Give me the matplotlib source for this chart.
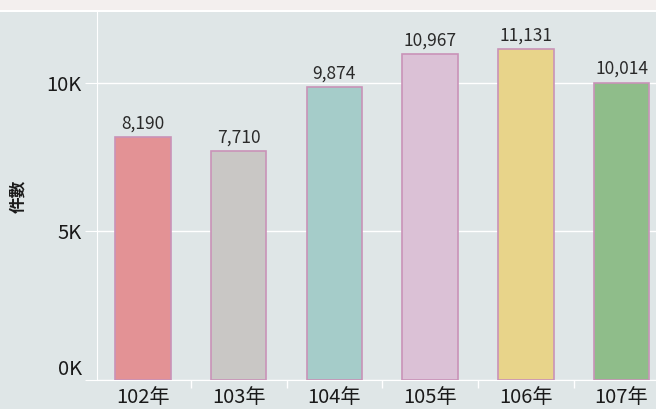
import matplotlib.pyplot as plt
import matplotlib.patches as patches
import matplotlib.transforms as mtransforms
from matplotlib.ticker import FuncFormatter, FixedLocator

plt.rcParams['font.family'] = ['Noto Sans CJK TC', 'DejaVu Sans']

years = ["102年", "103年", "104年", "105年", "106年", "107年"]
counts = [8190, 7710, 9874, 10967, 11131, 10014]
colors = ["#e39295", "#c9c7c5", "#a5ccc9", "#dbc1d6", "#e8d48a", "#8fbd8a"]

bg = "#dfe6e7"
fig = plt.figure(figsize=(6.56, 4.09), dpi=100, facecolor=bg)

# light strip at the top
fig.patches.append(patches.Rectangle((0, 397 / 409), 1, 12 / 409, transform=fig.transFigure,
                                     facecolor="white", edgecolor="none", zorder=0))
fig.patches.append(patches.Rectangle((0, 399 / 409), 1, 10 / 409, transform=fig.transFigure,
                                     facecolor="#f3efee", edgecolor="none", zorder=0))

ax = fig.add_axes([97 / 656, 29 / 409, 559 / 656, 368 / 409])
ax.set_facecolor(bg)

x = list(range(len(years)))
bars = ax.bar(x, counts, width=0.58, color=colors, edgecolor="#c993b8", linewidth=1.2, zorder=3)

for xi, v in zip(x, counts):
    ax.text(xi, v + 150, f"{v:,}", ha="center", va="bottom", fontsize=12.5, color="#2a2a2a", zorder=4)

ax.set_xlim(-0.48, 5.36)
ax.set_ylim(0, 12390)

ax.set_yticks([0, 5000, 10000])
ax.yaxis.set_major_formatter(FuncFormatter(lambda v, p: f"{int(v / 1000)}K"))
ax.grid(axis="y", color="white", linewidth=1, zorder=1)
ax.tick_params(axis="y", length=9, color="white", labelsize=14.5, labelcolor="#1a1a1a", pad=2)

ax.set_xticks(x)
ax.set_xticklabels(years)
ax.tick_params(axis="x", which="major", length=0, labelsize=14.5, labelcolor="#1a1a1a", pad=5)
ax.xaxis.set_minor_locator(FixedLocator([i + 0.5 for i in range(-1, 6)]))
ax.tick_params(axis="x", which="minor", length=6, color="white", width=1)

for s in ["top", "right"]:
    ax.spines[s].set_visible(False)
ax.spines["left"].set_color("white")
ax.spines["bottom"].set_color("white")

ax.set_ylabel("件數", fontsize=12, fontweight="bold", color="#1a1a1a", labelpad=14)

# the 0K label sits a little above the baseline
lbl0 = ax.get_yticklabels()[0]
lbl0.set_transform(lbl0.get_transform() + mtransforms.ScaledTranslation(0, 13 / 100, fig.dpi_scale_trans))

fig.savefig("out.png", dpi=100, facecolor=bg)
